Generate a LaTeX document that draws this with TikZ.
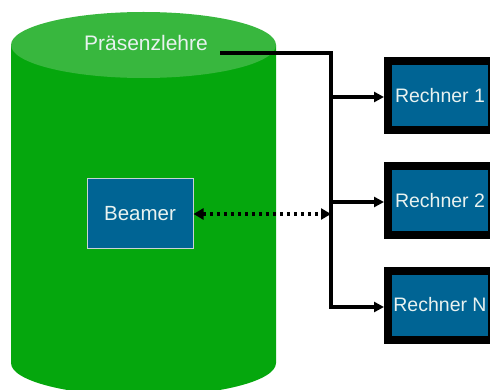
\documentclass[tikz,border=0pt]{standalone}
\usepackage{fontspec}
\setmainfont{Liberation Sans}
\usetikzlibrary{arrows.meta,calc}
\definecolor{bodygreen}{RGB}{5,167,13}
\definecolor{topgreen}{RGB}{56,183,62}
\definecolor{boxblue}{RGB}{0,100,148}
\definecolor{txt}{RGB}{232,242,240}
\tikzset{
  rechner/.style={draw=black, line width=8pt, fill=boxblue, text=txt,
    minimum width=104pt, minimum height=69pt, inner sep=0pt,
    font=\fontsize{19.5}{23}\selectfont},
  beamerbox/.style={draw={rgb,255:red,200;green,212;blue,212}, line width=1pt, fill=boxblue, text=txt,
    minimum width=106pt, minimum height=70pt, inner sep=0pt,
    font=\fontsize{20.5}{24}\selectfont},
  conn/.style={line width=3.4pt, -{Triangle[length=10pt,width=10pt]}},
  dotconn/.style={line width=3.6pt, dash pattern=on 3.6pt off 3.4pt,
    {Triangle[length=10pt,width=11pt]}-{Triangle[length=10pt,width=11pt]}}
}
\begin{document}
\begin{tikzpicture}[x=1pt,y=-1pt]
\useasboundingbox (0,0) rectangle (490,390);
\clip (0,0) rectangle (490,390);
% cylinder
\fill[bodygreen] (11,45) -- (11,363) arc[start angle=180,end angle=360,x radius=132.5,y radius=-33] -- (276,45) -- cycle;
\fill[topgreen] (143.5,45) ellipse[x radius=132.5,y radius=33];
\node[text=txt, font=\fontsize{21}{25}\selectfont, anchor=base] (title) at (146,51) {Präsenzlehre};
% boxes
\node[beamerbox] (beamer) at (140,214) {Beamer};
\node[rechner] (r1) at (440,95.5) {Rechner 1};
\node[rechner] (r2) at (440,200.5) {Rechner 2};
\node[rechner] (r3) at (440,305) {Rechner N};
% connectors
\coordinate (start) at (220,53);
\coordinate (j1) at (331,97);
\coordinate (j2) at (331,202);
\coordinate (jd) at (331,214);
\coordinate (j3) at (331,307);
\draw[conn] (start) -| (j3) -- (j3 -| r3.west);
\draw[conn] (j1) -- (j1 -| r1.west);
\draw[conn] (j2) -- (j2 -| r2.west);
\draw[dotconn] (beamer.east) -- (jd);
\end{tikzpicture}
\end{document}
